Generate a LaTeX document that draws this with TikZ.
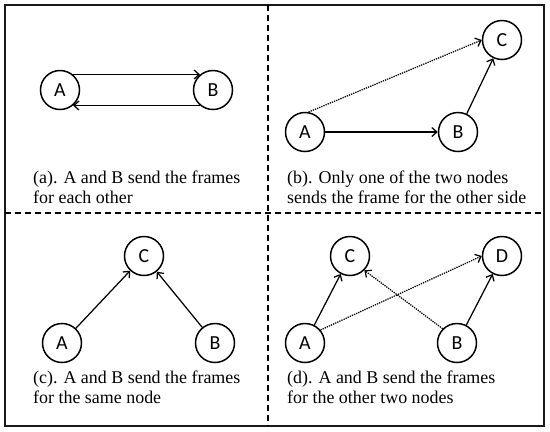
\documentclass[tikz,border=0pt]{standalone}
\usepackage{fontspec}
\setmainfont{Liberation Serif}
\newfontfamily\nodefont{Carlito}
\usetikzlibrary{arrows.meta}
\newcommand\capfont{\fontsize{18}{20}\selectfont}
\begin{document}
\begin{tikzpicture}[x=1bp,y=-1bp,
 nd/.style={circle,draw,line width=1.5bp,minimum size=39bp,inner sep=0pt,font=\nodefont\fontsize{20}{20}\selectfont},
 arr/.style={line width=1.25bp,-{Straight Barb[length=5bp,width=9bp]}},
 dotarr/.style={arr,dash pattern=on 1.3bp off 1bp},
 captxt/.style={anchor=base west,inner sep=0pt,font=\capfont},
 sep/.style={line width=1.2bp,dash pattern=on 6bp off 4bp}]
\useasboundingbox (0,0) rectangle (550,431);
\draw[line width=1.3bp,draw=black!90] (5,5) rectangle (544,426);
\coordinate (st) at (268,5);
\coordinate (sb) at (268,426);
\coordinate (sl) at (5,213);
\coordinate (sr) at (544,213);
\draw[sep] (st) -- (sb);
\draw[sep] (sl) -- (sr);
% panel a
\node[nd] (a1) at (60,90) {A};
\node[nd] (b1) at (213,90) {B};
\draw[arr] (a1.50) -- (b1.130);
\draw[arr] (b1.-130) -- (a1.-50);
\node[captxt] (ca1) at (33,183) {(a). A and B send the frames};
\node[captxt] (ca2) at (33,203) {for each other};
% panel b
\node[nd] (a2) at (305,132) {A};
\node[nd] (b2) at (458,132) {B};
\node[nd] (c2) at (502,40) {C};
\draw[arr] (a2) -- (b2);
\draw[dotarr] (a2.80) -- (c2.west);
\draw[arr] (b2) -- (c2);
\node[captxt] (cb1) at (287,183) {(b). Only one of the two nodes};
\node[captxt] (cb2) at (287,203) {sends the frame for the other side};
% panel c
\node[nd] (c3) at (144,256) {C};
\node[nd] (a3) at (62,343) {A};
\node[nd] (b3) at (215,343) {B};
\draw[arr] (a3) -- (c3);
\draw[arr] (b3) -- (c3);
\node[captxt] (cc1) at (33,383) {(c). A and B send the frames};
\node[captxt] (cc2) at (33,403) {for the same node};
% panel d
\node[nd] (c4) at (350,256) {C};
\node[nd] (d4) at (502,256) {D};
\node[nd] (a4) at (305,343) {A};
\node[nd] (b4) at (457,343) {B};
\draw[arr] (a4) -- (c4);
\draw[dotarr] (a4.40) -- (d4.west);
\draw[dotarr] (b4.135) -- (c4.-45);
\draw[arr] (b4) -- (d4);
\node[captxt] (cd1) at (287,383) {(d). A and B send the frames};
\node[captxt] (cd2) at (287,403) {for the other two nodes};
\end{tikzpicture}
\end{document}
